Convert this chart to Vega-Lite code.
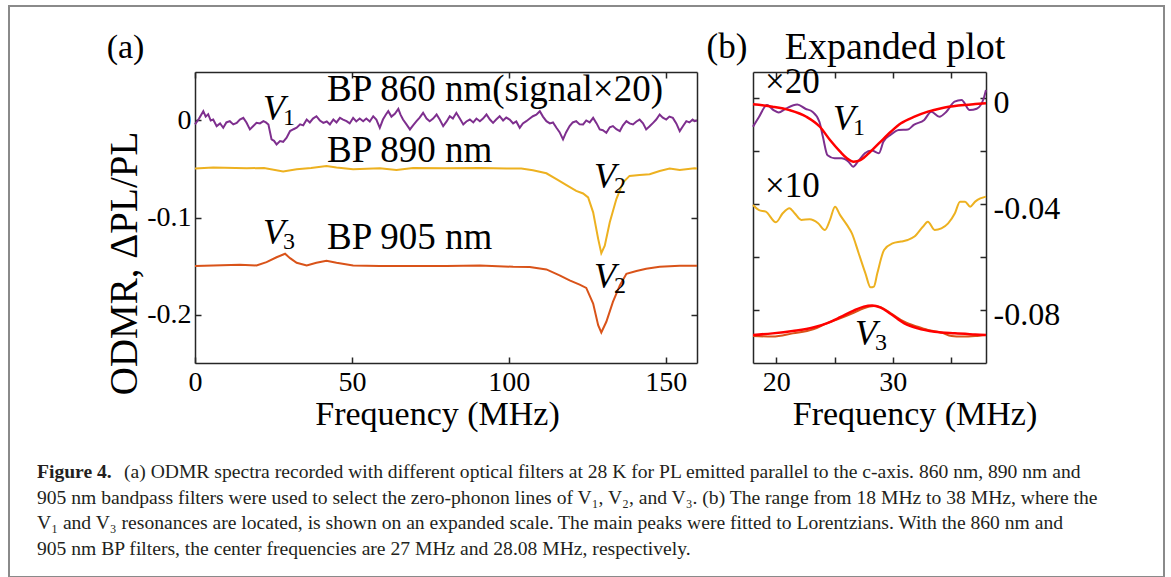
{
  "$schema": "https://vega.github.io/schema/vega-lite/v6.json",
  "width": 1155,
  "height": 571,
  "autosize": {"type": "none"},
  "padding": {"left": 9, "top": 6, "right": 7, "bottom": 0},
  "background": "white",
  "config": {
    "view": {"stroke": "#8a8a8a", "strokeWidth": 2},
    "axis": {
      "labelFont": "Liberation Serif", "titleFont": "Liberation Serif",
      "labelFontSize": 28, "titleFontSize": 34, "labelColor": "#000", "titleColor": "#000",
      "titleFontWeight": "normal", "domainColor": "#262626", "tickColor": "#262626",
      "domainWidth": 1.5, "tickWidth": 1.5, "grid": false, "tickSize": -6,
      "labelFlush": false, "labelOverlap": false
    },
    "text": {"font": "Liberation Serif", "color": "#000"}
  },
  "resolve": {"scale": {"x": "independent", "y": "independent"}, "axis": {"x": "independent", "y": "independent"}},
  "datasets": {
    "lines": [
      {"p":"a","s":"p860","f":0,"v":-0.004},{"p":"a","s":"p860","f":1.3,"v":0.002},{"p":"a","s":"p860","f":2.65,"v":0.0096},{"p":"a","s":"p860","f":3.4,"v":0.004},{"p":"a","s":"p860","f":4.2,"v":0.0065},{"p":"a","s":"p860","f":5.0,"v":0.0},{"p":"a","s":"p860","f":5.8,"v":0.001},{"p":"a","s":"p860","f":6.9,"v":-0.0058},{"p":"a","s":"p860","f":8.0,"v":-0.003},{"p":"a","s":"p860","f":9.0,"v":-0.0075},{"p":"a","s":"p860","f":10.0,"v":-0.002},{"p":"a","s":"p860","f":11.1,"v":-0.0007},{"p":"a","s":"p860","f":12.2,"v":-0.004},{"p":"a","s":"p860","f":13.3,"v":-0.0024},{"p":"a","s":"p860","f":14.3,"v":0.001},{"p":"a","s":"p860","f":15.4,"v":0.0027},{"p":"a","s":"p860","f":16.4,"v":-0.002},{"p":"a","s":"p860","f":17.5,"v":-0.0092},{"p":"a","s":"p860","f":18.5,"v":-0.006},{"p":"a","s":"p860","f":19.6,"v":-0.0024},{"p":"a","s":"p860","f":20.7,"v":-0.003},{"p":"a","s":"p860","f":21.8,"v":-0.0007},{"p":"a","s":"p860","f":22.6,"v":-0.002},{"p":"a","s":"p860","f":23.4,"v":-0.0041},{"p":"a","s":"p860","f":24.4,"v":-0.0195},{"p":"a","s":"p860","f":25.2,"v":-0.021},{"p":"a","s":"p860","f":26.0,"v":-0.0246},{"p":"a","s":"p860","f":27.1,"v":-0.0212},{"p":"a","s":"p860","f":28.1,"v":-0.022},{"p":"a","s":"p860","f":29.2,"v":-0.0178},{"p":"a","s":"p860","f":30.3,"v":-0.0109},{"p":"a","s":"p860","f":31.4,"v":-0.009},{"p":"a","s":"p860","f":32.4,"v":-0.0075},{"p":"a","s":"p860","f":33.5,"v":-0.004},{"p":"a","s":"p860","f":34.5,"v":-0.005},{"p":"a","s":"p860","f":35.6,"v":0.001},{"p":"a","s":"p860","f":36.6,"v":-0.002},{"p":"a","s":"p860","f":37.6,"v":0.002},{"p":"a","s":"p860","f":38.7,"v":0.0044},{"p":"a","s":"p860","f":39.8,"v":0.0},{"p":"a","s":"p860","f":40.9,"v":-0.0024},{"p":"a","s":"p860","f":42.0,"v":-0.001},{"p":"a","s":"p860","f":43.0,"v":-0.004},{"p":"a","s":"p860","f":44.1,"v":0.001},{"p":"a","s":"p860","f":45.1,"v":-0.002},{"p":"a","s":"p860","f":46.2,"v":0.0027},{"p":"a","s":"p860","f":47.2,"v":0.001},{"p":"a","s":"p860","f":48.3,"v":-0.0007},{"p":"a","s":"p860","f":49.3,"v":-0.003},{"p":"a","s":"p860","f":50.4,"v":0.0027},{"p":"a","s":"p860","f":51.4,"v":-0.001},{"p":"a","s":"p860","f":52.5,"v":0.002},{"p":"a","s":"p860","f":53.6,"v":-0.0007},{"p":"a","s":"p860","f":54.6,"v":0.002},{"p":"a","s":"p860","f":55.7,"v":-0.001},{"p":"a","s":"p860","f":56.8,"v":0.0044},{"p":"a","s":"p860","f":57.8,"v":0.001},{"p":"a","s":"p860","f":58.9,"v":-0.0075},{"p":"a","s":"p860","f":59.9,"v":0.001},{"p":"a","s":"p860","f":60.8,"v":0.006},{"p":"a","s":"p860","f":61.6,"v":0.0096},{"p":"a","s":"p860","f":62.6,"v":0.004},{"p":"a","s":"p860","f":63.7,"v":0.007},{"p":"a","s":"p860","f":64.8,"v":0.012},{"p":"a","s":"p860","f":65.5,"v":0.006},{"p":"a","s":"p860","f":66.3,"v":0.001},{"p":"a","s":"p860","f":67.4,"v":-0.004},{"p":"a","s":"p860","f":68.5,"v":-0.0092},{"p":"a","s":"p860","f":69.5,"v":-0.005},{"p":"a","s":"p860","f":70.6,"v":-0.0007},{"p":"a","s":"p860","f":71.6,"v":0.003},{"p":"a","s":"p860","f":72.7,"v":0.0079},{"p":"a","s":"p860","f":73.8,"v":0.002},{"p":"a","s":"p860","f":74.8,"v":-0.0007},{"p":"a","s":"p860","f":75.9,"v":0.002},{"p":"a","s":"p860","f":77.0,"v":0.0062},{"p":"a","s":"p860","f":78.0,"v":0.001},{"p":"a","s":"p860","f":79.1,"v":-0.0058},{"p":"a","s":"p860","f":80.2,"v":-0.001},{"p":"a","s":"p860","f":81.2,"v":0.0044},{"p":"a","s":"p860","f":82.2,"v":0.002},{"p":"a","s":"p860","f":83.3,"v":0.0079},{"p":"a","s":"p860","f":84.4,"v":0.002},{"p":"a","s":"p860","f":85.5,"v":-0.0041},{"p":"a","s":"p860","f":86.5,"v":-0.001},{"p":"a","s":"p860","f":87.6,"v":0.001},{"p":"a","s":"p860","f":88.7,"v":-0.002},{"p":"a","s":"p860","f":89.7,"v":0.002},{"p":"a","s":"p860","f":90.8,"v":-0.0007},{"p":"a","s":"p860","f":91.8,"v":0.002},{"p":"a","s":"p860","f":92.9,"v":0.0062},{"p":"a","s":"p860","f":94.0,"v":0.001},{"p":"a","s":"p860","f":95.0,"v":-0.0024},{"p":"a","s":"p860","f":96.0,"v":0.001},{"p":"a","s":"p860","f":97.1,"v":0.0044},{"p":"a","s":"p860","f":98.2,"v":0.0},{"p":"a","s":"p860","f":99.2,"v":0.003},{"p":"a","s":"p860","f":100.3,"v":0.001},{"p":"a","s":"p860","f":101.4,"v":-0.003},{"p":"a","s":"p860","f":102.4,"v":-0.001},{"p":"a","s":"p860","f":103.5,"v":-0.0075},{"p":"a","s":"p860","f":104.5,"v":-0.003},{"p":"a","s":"p860","f":105.6,"v":-0.0007},{"p":"a","s":"p860","f":106.7,"v":0.002},{"p":"a","s":"p860","f":107.7,"v":0.0044},{"p":"a","s":"p860","f":108.8,"v":0.006},{"p":"a","s":"p860","f":109.9,"v":0.0096},{"p":"a","s":"p860","f":110.9,"v":0.004},{"p":"a","s":"p860","f":112.0,"v":-0.0007},{"p":"a","s":"p860","f":113.1,"v":-0.003},{"p":"a","s":"p860","f":114.1,"v":-0.002},{"p":"a","s":"p860","f":115.2,"v":-0.0075},{"p":"a","s":"p860","f":116.2,"v":-0.012},{"p":"a","s":"p860","f":117.3,"v":-0.0195},{"p":"a","s":"p860","f":118.3,"v":-0.012},{"p":"a","s":"p860","f":119.4,"v":-0.0058},{"p":"a","s":"p860","f":120.4,"v":-0.002},{"p":"a","s":"p860","f":121.5,"v":-0.0007},{"p":"a","s":"p860","f":122.6,"v":-0.004},{"p":"a","s":"p860","f":123.7,"v":-0.0041},{"p":"a","s":"p860","f":124.7,"v":0.0},{"p":"a","s":"p860","f":125.8,"v":-0.002},{"p":"a","s":"p860","f":126.9,"v":0.0027},{"p":"a","s":"p860","f":128.0,"v":-0.003},{"p":"a","s":"p860","f":129.0,"v":-0.0092},{"p":"a","s":"p860","f":130.0,"v":-0.01},{"p":"a","s":"p860","f":131.1,"v":-0.0126},{"p":"a","s":"p860","f":132.2,"v":-0.007},{"p":"a","s":"p860","f":133.2,"v":-0.0058},{"p":"a","s":"p860","f":134.3,"v":-0.009},{"p":"a","s":"p860","f":135.4,"v":-0.0109},{"p":"a","s":"p860","f":136.4,"v":-0.005},{"p":"a","s":"p860","f":137.5,"v":-0.0007},{"p":"a","s":"p860","f":138.5,"v":-0.003},{"p":"a","s":"p860","f":139.6,"v":-0.0041},{"p":"a","s":"p860","f":140.7,"v":-0.001},{"p":"a","s":"p860","f":141.7,"v":0.001},{"p":"a","s":"p860","f":142.8,"v":-0.003},{"p":"a","s":"p860","f":143.8,"v":-0.0092},{"p":"a","s":"p860","f":144.9,"v":-0.006},{"p":"a","s":"p860","f":146.0,"v":-0.0024},{"p":"a","s":"p860","f":147.0,"v":0.001},{"p":"a","s":"p860","f":148.1,"v":0.0062},{"p":"a","s":"p860","f":149.1,"v":0.003},{"p":"a","s":"p860","f":150.2,"v":0.001},{"p":"a","s":"p860","f":151.2,"v":0.004},{"p":"a","s":"p860","f":152.3,"v":0.0027},{"p":"a","s":"p860","f":153.4,"v":-0.003},{"p":"a","s":"p860","f":154.5,"v":-0.0109},{"p":"a","s":"p860","f":155.5,"v":-0.006},{"p":"a","s":"p860","f":156.6,"v":-0.0007},{"p":"a","s":"p860","f":157.6,"v":-0.002},{"p":"a","s":"p860","f":158.6,"v":0.001},{"p":"a","s":"p860","f":159.2,"v":-0.0007},{"p":"a","s":"p860","f":160,"v":0.0},
      {"p":"a","s":"p890","f":0,"v":-0.0496},{"p":"a","s":"p890","f":5.8,"v":-0.0485},{"p":"a","s":"p890","f":16.5,"v":-0.0492},{"p":"a","s":"p890","f":22,"v":-0.049},{"p":"a","s":"p890","f":28.1,"v":-0.0526},{"p":"a","s":"p890","f":32.4,"v":-0.0502},{"p":"a","s":"p890","f":37,"v":-0.049},{"p":"a","s":"p890","f":41.9,"v":-0.0468},{"p":"a","s":"p890","f":45.1,"v":-0.0485},{"p":"a","s":"p890","f":50.4,"v":-0.0502},{"p":"a","s":"p890","f":58.9,"v":-0.0492},{"p":"a","s":"p890","f":64.2,"v":-0.051},{"p":"a","s":"p890","f":69.5,"v":-0.049},{"p":"a","s":"p890","f":80.1,"v":-0.0492},{"p":"a","s":"p890","f":90.8,"v":-0.049},{"p":"a","s":"p890","f":99.3,"v":-0.0496},{"p":"a","s":"p890","f":104,"v":-0.0496},{"p":"a","s":"p890","f":107.7,"v":-0.0513},{"p":"a","s":"p890","f":112,"v":-0.0544},{"p":"a","s":"p890","f":115.2,"v":-0.0605},{"p":"a","s":"p890","f":118.4,"v":-0.0667},{"p":"a","s":"p890","f":121.5,"v":-0.0725},{"p":"a","s":"p890","f":123.7,"v":-0.0752},{"p":"a","s":"p890","f":125.3,"v":-0.0793},{"p":"a","s":"p890","f":126.9,"v":-0.0947},{"p":"a","s":"p890","f":128.5,"v":-0.122},{"p":"a","s":"p890","f":129.5,"v":-0.1368},{"p":"a","s":"p890","f":130.6,"v":-0.129},{"p":"a","s":"p890","f":132.2,"v":-0.105},{"p":"a","s":"p890","f":134.3,"v":-0.081},{"p":"a","s":"p890","f":136.4,"v":-0.064},{"p":"a","s":"p890","f":138.5,"v":-0.0571},{"p":"a","s":"p890","f":141.7,"v":-0.0561},{"p":"a","s":"p890","f":144.9,"v":-0.0554},{"p":"a","s":"p890","f":148.1,"v":-0.052},{"p":"a","s":"p890","f":151.3,"v":-0.0496},{"p":"a","s":"p890","f":154.5,"v":-0.051},{"p":"a","s":"p890","f":159.2,"v":-0.0492},{"p":"a","s":"p890","f":160,"v":-0.0496},
      {"p":"a","s":"p905","f":0,"v":-0.15},{"p":"a","s":"p905","f":5.8,"v":-0.1494},{"p":"a","s":"p905","f":14.3,"v":-0.1487},{"p":"a","s":"p905","f":19.6,"v":-0.1494},{"p":"a","s":"p905","f":22.8,"v":-0.146},{"p":"a","s":"p905","f":26.0,"v":-0.141},{"p":"a","s":"p905","f":28.7,"v":-0.1374},{"p":"a","s":"p905","f":30.3,"v":-0.1419},{"p":"a","s":"p905","f":32.4,"v":-0.1467},{"p":"a","s":"p905","f":35.6,"v":-0.1494},{"p":"a","s":"p905","f":38.7,"v":-0.1467},{"p":"a","s":"p905","f":41.9,"v":-0.1446},{"p":"a","s":"p905","f":45.1,"v":-0.1467},{"p":"a","s":"p905","f":50.4,"v":-0.1494},{"p":"a","s":"p905","f":58.9,"v":-0.15},{"p":"a","s":"p905","f":69.5,"v":-0.15},{"p":"a","s":"p905","f":80.1,"v":-0.15},{"p":"a","s":"p905","f":90.8,"v":-0.1494},{"p":"a","s":"p905","f":101.4,"v":-0.1508},{"p":"a","s":"p905","f":106.7,"v":-0.1511},{"p":"a","s":"p905","f":112,"v":-0.1535},{"p":"a","s":"p905","f":116.2,"v":-0.1597},{"p":"a","s":"p905","f":119.4,"v":-0.1648},{"p":"a","s":"p905","f":122.6,"v":-0.1692},{"p":"a","s":"p905","f":124.7,"v":-0.1726},{"p":"a","s":"p905","f":126.9,"v":-0.1887},{"p":"a","s":"p905","f":128.5,"v":-0.211},{"p":"a","s":"p905","f":129.5,"v":-0.2185},{"p":"a","s":"p905","f":131.1,"v":-0.2075},{"p":"a","s":"p905","f":133.2,"v":-0.187},{"p":"a","s":"p905","f":135.4,"v":-0.17},{"p":"a","s":"p905","f":137.5,"v":-0.158},{"p":"a","s":"p905","f":140.7,"v":-0.1552},{"p":"a","s":"p905","f":143.8,"v":-0.1528},{"p":"a","s":"p905","f":148.1,"v":-0.1508},{"p":"a","s":"p905","f":154.5,"v":-0.1497},{"p":"a","s":"p905","f":160,"v":-0.1497},
      {"p":"b","s":"p860","f":18,"v":-0.0107},{"p":"b","s":"p860","f":18.5,"v":-0.0071},{"p":"b","s":"p860","f":19.2,"v":-0.0025},{"p":"b","s":"p860","f":19.8,"v":-0.0045},{"p":"b","s":"p860","f":20.2,"v":-0.0053},{"p":"b","s":"p860","f":20.8,"v":-0.0039},{"p":"b","s":"p860","f":21.8,"v":-0.0023},{"p":"b","s":"p860","f":22.5,"v":-0.0039},{"p":"b","s":"p860","f":23.1,"v":-0.005},{"p":"b","s":"p860","f":23.7,"v":-0.0088},{"p":"b","s":"p860","f":24.0,"v":-0.0145},{"p":"b","s":"p860","f":24.4,"v":-0.0215},{"p":"b","s":"p860","f":25.0,"v":-0.0226},{"p":"b","s":"p860","f":25.6,"v":-0.0226},{"p":"b","s":"p860","f":26.2,"v":-0.0239},{"p":"b","s":"p860","f":26.6,"v":-0.0258},{"p":"b","s":"p860","f":27.0,"v":-0.0239},{"p":"b","s":"p860","f":27.6,"v":-0.0207},{"p":"b","s":"p860","f":28.2,"v":-0.0197},{"p":"b","s":"p860","f":28.8,"v":-0.0207},{"p":"b","s":"p860","f":29.2,"v":-0.0163},{"p":"b","s":"p860","f":29.8,"v":-0.0138},{"p":"b","s":"p860","f":30.5,"v":-0.0119},{"p":"b","s":"p860","f":31.3,"v":-0.0117},{"p":"b","s":"p860","f":31.8,"v":-0.01},{"p":"b","s":"p860","f":32.7,"v":-0.0081},{"p":"b","s":"p860","f":33.3,"v":-0.005},{"p":"b","s":"p860","f":34.0,"v":-0.0069},{"p":"b","s":"p860","f":34.6,"v":-0.005},{"p":"b","s":"p860","f":35.3,"v":-0.0012},{"p":"b","s":"p860","f":35.9,"v":-0.0006},{"p":"b","s":"p860","f":36.6,"v":-0.0044},{"p":"b","s":"p860","f":37.2,"v":-0.0039},{"p":"b","s":"p860","f":37.8,"v":0.0},{"p":"b","s":"p860","f":38,"v":0.0032},
      {"p":"b","s":"p890","f":18,"v":-0.0403},{"p":"b","s":"p890","f":18.52,"v":-0.0422},{"p":"b","s":"p890","f":19.1,"v":-0.0428},{"p":"b","s":"p890","f":19.97,"v":-0.0468},{"p":"b","s":"p890","f":20.55,"v":-0.0434},{"p":"b","s":"p890","f":21.13,"v":-0.0415},{"p":"b","s":"p890","f":21.57,"v":-0.0434},{"p":"b","s":"p890","f":22.15,"v":-0.0459},{"p":"b","s":"p890","f":22.87,"v":-0.0457},{"p":"b","s":"p890","f":23.59,"v":-0.0472},{"p":"b","s":"p890","f":24.17,"v":-0.0497},{"p":"b","s":"p890","f":24.61,"v":-0.0459},{"p":"b","s":"p890","f":25.04,"v":-0.0409},{"p":"b","s":"p890","f":25.48,"v":-0.0441},{"p":"b","s":"p890","f":26.06,"v":-0.0478},{"p":"b","s":"p890","f":26.49,"v":-0.051},{"p":"b","s":"p890","f":27.07,"v":-0.0585},{"p":"b","s":"p890","f":27.65,"v":-0.0661},{"p":"b","s":"p890","f":28.09,"v":-0.0714},{"p":"b","s":"p890","f":28.38,"v":-0.0711},{"p":"b","s":"p890","f":28.67,"v":-0.0661},{"p":"b","s":"p890","f":29.25,"v":-0.0573},{"p":"b","s":"p890","f":29.97,"v":-0.0548},{"p":"b","s":"p890","f":30.7,"v":-0.0541},{"p":"b","s":"p890","f":31.28,"v":-0.0535},{"p":"b","s":"p890","f":31.86,"v":-0.0522},{"p":"b","s":"p890","f":32.58,"v":-0.0485},{"p":"b","s":"p890","f":33.01,"v":-0.0466},{"p":"b","s":"p890","f":33.59,"v":-0.0497},{"p":"b","s":"p890","f":34.17,"v":-0.0491},{"p":"b","s":"p890","f":34.75,"v":-0.0472},{"p":"b","s":"p890","f":35.33,"v":-0.0434},{"p":"b","s":"p890","f":35.77,"v":-0.039},{"p":"b","s":"p890","f":36.2,"v":-0.039},{"p":"b","s":"p890","f":36.64,"v":-0.0409},{"p":"b","s":"p890","f":37.07,"v":-0.039},{"p":"b","s":"p890","f":37.51,"v":-0.0378},{"p":"b","s":"p890","f":38,"v":-0.0371},
      {"p":"b","s":"p905","f":18,"v":-0.0898},{"p":"b","s":"p905","f":19.68,"v":-0.09},{"p":"b","s":"p905","f":21.42,"v":-0.0888},{"p":"b","s":"p905","f":23.16,"v":-0.0873},{"p":"b","s":"p905","f":24.32,"v":-0.085},{"p":"b","s":"p905","f":25.48,"v":-0.0831},{"p":"b","s":"p905","f":26.64,"v":-0.081},{"p":"b","s":"p905","f":27.51,"v":-0.0793},{"p":"b","s":"p905","f":28.38,"v":-0.0785},{"p":"b","s":"p905","f":28.96,"v":-0.0789},{"p":"b","s":"p905","f":29.83,"v":-0.0812},{"p":"b","s":"p905","f":30.99,"v":-0.0844},{"p":"b","s":"p905","f":32.14,"v":-0.0863},{"p":"b","s":"p905","f":33.01,"v":-0.0875},{"p":"b","s":"p905","f":34.17,"v":-0.0885},{"p":"b","s":"p905","f":35.04,"v":-0.0898},{"p":"b","s":"p905","f":35.91,"v":-0.09},{"p":"b","s":"p905","f":37.07,"v":-0.0898},{"p":"b","s":"p905","f":38,"v":-0.0894},
      {"p":"b","s":"fitV1","f":18,"v":-0.0022},{"p":"b","s":"fitV1","f":19.68,"v":-0.0031},{"p":"b","s":"fitV1","f":21.13,"v":-0.0044},{"p":"b","s":"fitV1","f":22.58,"v":-0.0069},{"p":"b","s":"fitV1","f":23.74,"v":-0.0107},{"p":"b","s":"fitV1","f":24.61,"v":-0.0157},{"p":"b","s":"fitV1","f":25.48,"v":-0.0201},{"p":"b","s":"fitV1","f":26.06,"v":-0.0226},{"p":"b","s":"fitV1","f":26.64,"v":-0.0239},{"p":"b","s":"fitV1","f":27.22,"v":-0.0233},{"p":"b","s":"fitV1","f":28.09,"v":-0.0201},{"p":"b","s":"fitV1","f":28.96,"v":-0.0163},{"p":"b","s":"fitV1","f":29.83,"v":-0.0126},{"p":"b","s":"fitV1","f":30.7,"v":-0.0094},{"p":"b","s":"fitV1","f":31.86,"v":-0.0069},{"p":"b","s":"fitV1","f":33.01,"v":-0.005},{"p":"b","s":"fitV1","f":34.17,"v":-0.0037},{"p":"b","s":"fitV1","f":35.62,"v":-0.0027},{"p":"b","s":"fitV1","f":37.07,"v":-0.0021},{"p":"b","s":"fitV1","f":38,"v":-0.0018},
      {"p":"b","s":"fitV3","f":18,"v":-0.0894},{"p":"b","s":"fitV3","f":19.68,"v":-0.0888},{"p":"b","s":"fitV3","f":21.42,"v":-0.0879},{"p":"b","s":"fitV3","f":23.16,"v":-0.0866},{"p":"b","s":"fitV3","f":24.32,"v":-0.085},{"p":"b","s":"fitV3","f":25.48,"v":-0.0827},{"p":"b","s":"fitV3","f":26.64,"v":-0.0802},{"p":"b","s":"fitV3","f":27.51,"v":-0.0787},{"p":"b","s":"fitV3","f":28.23,"v":-0.0783},{"p":"b","s":"fitV3","f":28.96,"v":-0.0791},{"p":"b","s":"fitV3","f":29.83,"v":-0.0815},{"p":"b","s":"fitV3","f":30.99,"v":-0.085},{"p":"b","s":"fitV3","f":32.14,"v":-0.0869},{"p":"b","s":"fitV3","f":33.59,"v":-0.0882},{"p":"b","s":"fitV3","f":35.33,"v":-0.0888},{"p":"b","s":"fitV3","f":37.07,"v":-0.0892},{"p":"b","s":"fitV3","f":38,"v":-0.0894}
    ],
    "annA": [
      {"t":"BP 860 nm(signal×20)","f":42.07,"v":0.0201},
      {"t":"BP 890 nm","f":42.07,"v":-0.0428},
      {"t":"BP 905 nm","f":42.07,"v":-0.1325}
    ],
    "vA": [
      {"sym":"V","sub":"1","f":21.67,"v":0.0005},
      {"sym":"V","sub":"2","f":127.2,"v":-0.0696},
      {"sym":"V","sub":"3","f":21.67,"v":-0.1273},
      {"sym":"V","sub":"2","f":127.2,"v":-0.1727}
    ],
    "annB": [
      {"t":"×20","f":19.03,"v":0.00206},
      {"t":"×10","f":19.03,"v":-0.0373}
    ],
    "vB": [
      {"sym":"V","sub":"1","f":24.87,"v":-0.0119},
      {"sym":"V","sub":"3","f":26.76,"v":-0.0932}
    ],
    "caption": [
      {"line":1,"t":"(a) ODMR spectra recorded with different optical filters at 28 K for PL emitted parallel to the c-axis. 860 nm, 890 nm and"},
      {"line":2,"t":"905 nm bandpass filters were used to select the zero-phonon lines of V₁, V₂, and V₃. (b) The range from 18 MHz to 38 MHz, where the"},
      {"line":3,"t":"V₁ and V₃ resonances are located, is shown on an expanded scale. The main peaks were fitted to Lorentzians. With the 860 nm and"},
      {"line":4,"t":"905 nm BP filters, the center frequencies are 27 MHz and 28.08 MHz, respectively."}
    ],
    "capHead": [{"line":1,"t":"Figure 4."}]
  },
  "layer": [
    {
      "data": {"name": "lines"},
      "transform": [{"filter": "datum.p == 'a'"}],
      "mark": {"type": "line", "strokeWidth": 2},
      "encoding": {
        "x": {"field": "f", "type": "quantitative",
          "scale": {"domain": [0, 160], "range": [186, 688], "nice": false, "zero": false},
          "axis": {"orient": "bottom", "offset": -214, "values": [0, 50, 100, 150], "labelPadding": 11,
            "title": "Frequency (MHz)", "titleX": 428, "titleY": 61, "titleBaseline": "alphabetic", "titleAlign": "center"}},
        "y": {"field": "v", "type": "quantitative",
          "scale": {"domain": [-0.25, 0.05], "range": [357, 66], "nice": false, "zero": false},
          "axis": {"orient": "left", "offset": -186, "values": [0, -0.1, -0.2], "labelPadding": 10,
            "labelExpr": "datum.value == 0 ? '0' : '-' + format(-datum.value, '.1f')",
            "title": "ODMR, ΔPL/PL", "titleX": -71, "titleY": 257, "titleAngle": -90, "titleAlign": "center", "titleBaseline": "middle", "titleFontSize": 39}},
        "color": {"field": "s", "type": "nominal",
          "scale": {"domain": ["p860", "p890", "p905", "fitV1", "fitV3"], "range": ["#7E2F8E", "#EDB120", "#D95319", "#FF0000", "#FF0000"]},
          "legend": null}
      }
    },
    {
      "data": {"name": "lines"},
      "transform": [{"filter": "datum.p == 'a' && datum.f == 0"}],
      "mark": {"type": "point", "opacity": 0},
      "encoding": {
        "x": {"field": "f", "type": "quantitative",
          "scale": {"domain": [0, 160], "range": [186, 688], "nice": false, "zero": false},
          "axis": {"orient": "top", "offset": -66, "values": [0, 50, 100, 150], "labels": false,
            "title": "(a)", "titleX": 116, "titleY": -15, "titleBaseline": "alphabetic", "titleAlign": "center", "titleFontSize": 34}},
        "y": {"field": "v", "type": "quantitative",
          "scale": {"domain": [-0.25, 0.05], "range": [357, 66], "nice": false, "zero": false},
          "axis": {"orient": "right", "offset": -467, "values": [0, -0.1, -0.2], "labels": false, "title": null}}
      }
    },
    {
      "data": {"name": "annA"},
      "mark": {"type": "text", "align": "left", "baseline": "alphabetic", "fontSize": 37},
      "encoding": {
        "x": {"field": "f", "type": "quantitative", "scale": {"domain": [0, 160], "range": [186, 688], "nice": false, "zero": false}, "axis": null},
        "y": {"field": "v", "type": "quantitative", "scale": {"domain": [-0.25, 0.05], "range": [357, 66], "nice": false, "zero": false}, "axis": null},
        "text": {"field": "t"}
      }
    },
    {
      "data": {"name": "vA"},
      "mark": {"type": "text", "align": "left", "baseline": "alphabetic", "fontSize": 36, "fontStyle": "italic"},
      "encoding": {
        "x": {"field": "f", "type": "quantitative", "scale": {"domain": [0, 160], "range": [186, 688], "nice": false, "zero": false}, "axis": null},
        "y": {"field": "v", "type": "quantitative", "scale": {"domain": [-0.25, 0.05], "range": [357, 66], "nice": false, "zero": false}, "axis": null},
        "text": {"field": "sym"}
      }
    },
    {
      "data": {"name": "vA"},
      "mark": {"type": "text", "align": "left", "baseline": "alphabetic", "fontSize": 24, "dx": 20, "dy": 5},
      "encoding": {
        "x": {"field": "f", "type": "quantitative", "scale": {"domain": [0, 160], "range": [186, 688], "nice": false, "zero": false}, "axis": null},
        "y": {"field": "v", "type": "quantitative", "scale": {"domain": [-0.25, 0.05], "range": [357, 66], "nice": false, "zero": false}, "axis": null},
        "text": {"field": "sub"}
      }
    },
    {
      "data": {"name": "lines"},
      "transform": [{"filter": "datum.p == 'b' && indexof(datum.s, 'fit') < 0"}],
      "mark": {"type": "line", "strokeWidth": 2, "interpolate": "monotone"},
      "encoding": {
        "x": {"field": "f", "type": "quantitative",
          "scale": {"domain": [18, 38], "range": [744, 977], "nice": false, "zero": false},
          "axis": {"orient": "bottom", "offset": -214, "values": [20, 25, 30, 35], "labelPadding": 11,
            "labelExpr": "datum.value == 20 || datum.value == 30 ? datum.label : ''",
            "title": "Frequency (MHz)", "titleX": 905.5, "titleY": 61, "titleBaseline": "alphabetic", "titleAlign": "center"}},
        "y": {"field": "v", "type": "quantitative",
          "scale": {"domain": [-0.1, 0.01], "range": [357, 66], "nice": false, "zero": false},
          "axis": {"orient": "right", "offset": -178, "values": [0, -0.02, -0.04, -0.06, -0.08], "labelPadding": 13, "labelFontSize": 32, "labelOffset": 4,
            "labelExpr": "datum.value == 0 ? '0' : (datum.value == -0.04 || datum.value == -0.08) ? '-' + format(-datum.value, '.2f') : ''",
            "title": null}},
        "color": {"field": "s", "type": "nominal",
          "scale": {"domain": ["p860", "p890", "p905", "fitV1", "fitV3"], "range": ["#7E2F8E", "#EDB120", "#D95319", "#FF0000", "#FF0000"]},
          "legend": null}
      }
    },
    {
      "data": {"name": "lines"},
      "transform": [{"filter": "datum.p == 'b' && indexof(datum.s, 'fit') >= 0"}],
      "mark": {"type": "line", "strokeWidth": 2.5, "interpolate": "monotone"},
      "encoding": {
        "x": {"field": "f", "type": "quantitative", "scale": {"domain": [18, 38], "range": [744, 977], "nice": false, "zero": false}, "axis": null},
        "y": {"field": "v", "type": "quantitative", "scale": {"domain": [-0.1, 0.01], "range": [357, 66], "nice": false, "zero": false}, "axis": null},
        "color": {"field": "s", "type": "nominal",
          "scale": {"domain": ["p860", "p890", "p905", "fitV1", "fitV3"], "range": ["#7E2F8E", "#EDB120", "#D95319", "#FF0000", "#FF0000"]},
          "legend": null}
      }
    },
    {
      "data": {"name": "lines"},
      "transform": [{"filter": "datum.p == 'b' && datum.f == 18"}],
      "mark": {"type": "point", "opacity": 0},
      "encoding": {
        "x": {"field": "f", "type": "quantitative",
          "scale": {"domain": [18, 38], "range": [744, 977], "nice": false, "zero": false},
          "axis": {"orient": "top", "offset": -66, "values": [20, 25, 30, 35], "labels": false,
            "title": "Expanded plot", "titleX": 885.5, "titleY": -14, "titleBaseline": "alphabetic", "titleAlign": "center", "titleFontSize": 38}},
        "y": {"field": "v", "type": "quantitative",
          "scale": {"domain": [-0.1, 0.01], "range": [357, 66], "nice": false, "zero": false},
          "axis": {"orient": "left", "offset": -744, "values": [0, -0.02, -0.04, -0.06, -0.08], "labels": false,
            "title": "(b)", "titleX": -26.5, "titleY": 51, "titleAngle": 0, "titleAlign": "center", "titleBaseline": "alphabetic", "titleFontSize": 35}}
      }
    },
    {
      "data": {"name": "annB"},
      "mark": {"type": "text", "align": "left", "baseline": "alphabetic", "fontSize": 35},
      "encoding": {
        "x": {"field": "f", "type": "quantitative", "scale": {"domain": [18, 38], "range": [744, 977], "nice": false, "zero": false}, "axis": null},
        "y": {"field": "v", "type": "quantitative", "scale": {"domain": [-0.1, 0.01], "range": [357, 66], "nice": false, "zero": false}, "axis": null},
        "text": {"field": "t"}
      }
    },
    {
      "data": {"name": "vB"},
      "mark": {"type": "text", "align": "left", "baseline": "alphabetic", "fontSize": 36, "fontStyle": "italic"},
      "encoding": {
        "x": {"field": "f", "type": "quantitative", "scale": {"domain": [18, 38], "range": [744, 977], "nice": false, "zero": false}, "axis": null},
        "y": {"field": "v", "type": "quantitative", "scale": {"domain": [-0.1, 0.01], "range": [357, 66], "nice": false, "zero": false}, "axis": null},
        "text": {"field": "sym"}
      }
    },
    {
      "data": {"name": "vB"},
      "mark": {"type": "text", "align": "left", "baseline": "alphabetic", "fontSize": 24, "dx": 20, "dy": 5},
      "encoding": {
        "x": {"field": "f", "type": "quantitative", "scale": {"domain": [18, 38], "range": [744, 977], "nice": false, "zero": false}, "axis": null},
        "y": {"field": "v", "type": "quantitative", "scale": {"domain": [-0.1, 0.01], "range": [357, 66], "nice": false, "zero": false}, "axis": null},
        "text": {"field": "sub"}
      }
    },
    {
      "data": {"name": "capHead"},
      "mark": {"type": "text", "align": "left", "baseline": "alphabetic", "fontSize": 19.6, "fontWeight": "bold", "color": "#231f20"},
      "encoding": {
        "x": {"value": 28},
        "y": {"field": "line", "type": "quantitative", "scale": {"domain": [1, 4], "range": [472, 548.5], "nice": false, "zero": false}, "axis": null},
        "text": {"field": "t"}
      }
    },
    {
      "data": {"name": "caption"},
      "transform": [{"filter": "datum.line == 1"}],
      "mark": {"type": "text", "align": "left", "baseline": "alphabetic", "fontSize": 19.6, "dx": 87, "color": "#231f20"},
      "encoding": {
        "x": {"value": 28},
        "y": {"field": "line", "type": "quantitative", "scale": {"domain": [1, 4], "range": [472, 548.5], "nice": false, "zero": false}, "axis": null},
        "text": {"field": "t"}
      }
    },
    {
      "data": {"name": "caption"},
      "transform": [{"filter": "datum.line > 1"}],
      "mark": {"type": "text", "align": "left", "baseline": "alphabetic", "fontSize": 19.6, "color": "#231f20"},
      "encoding": {
        "x": {"value": 28},
        "y": {"field": "line", "type": "quantitative", "scale": {"domain": [1, 4], "range": [472, 548.5], "nice": false, "zero": false}, "axis": null},
        "text": {"field": "t"}
      }
    }
  ]
}
